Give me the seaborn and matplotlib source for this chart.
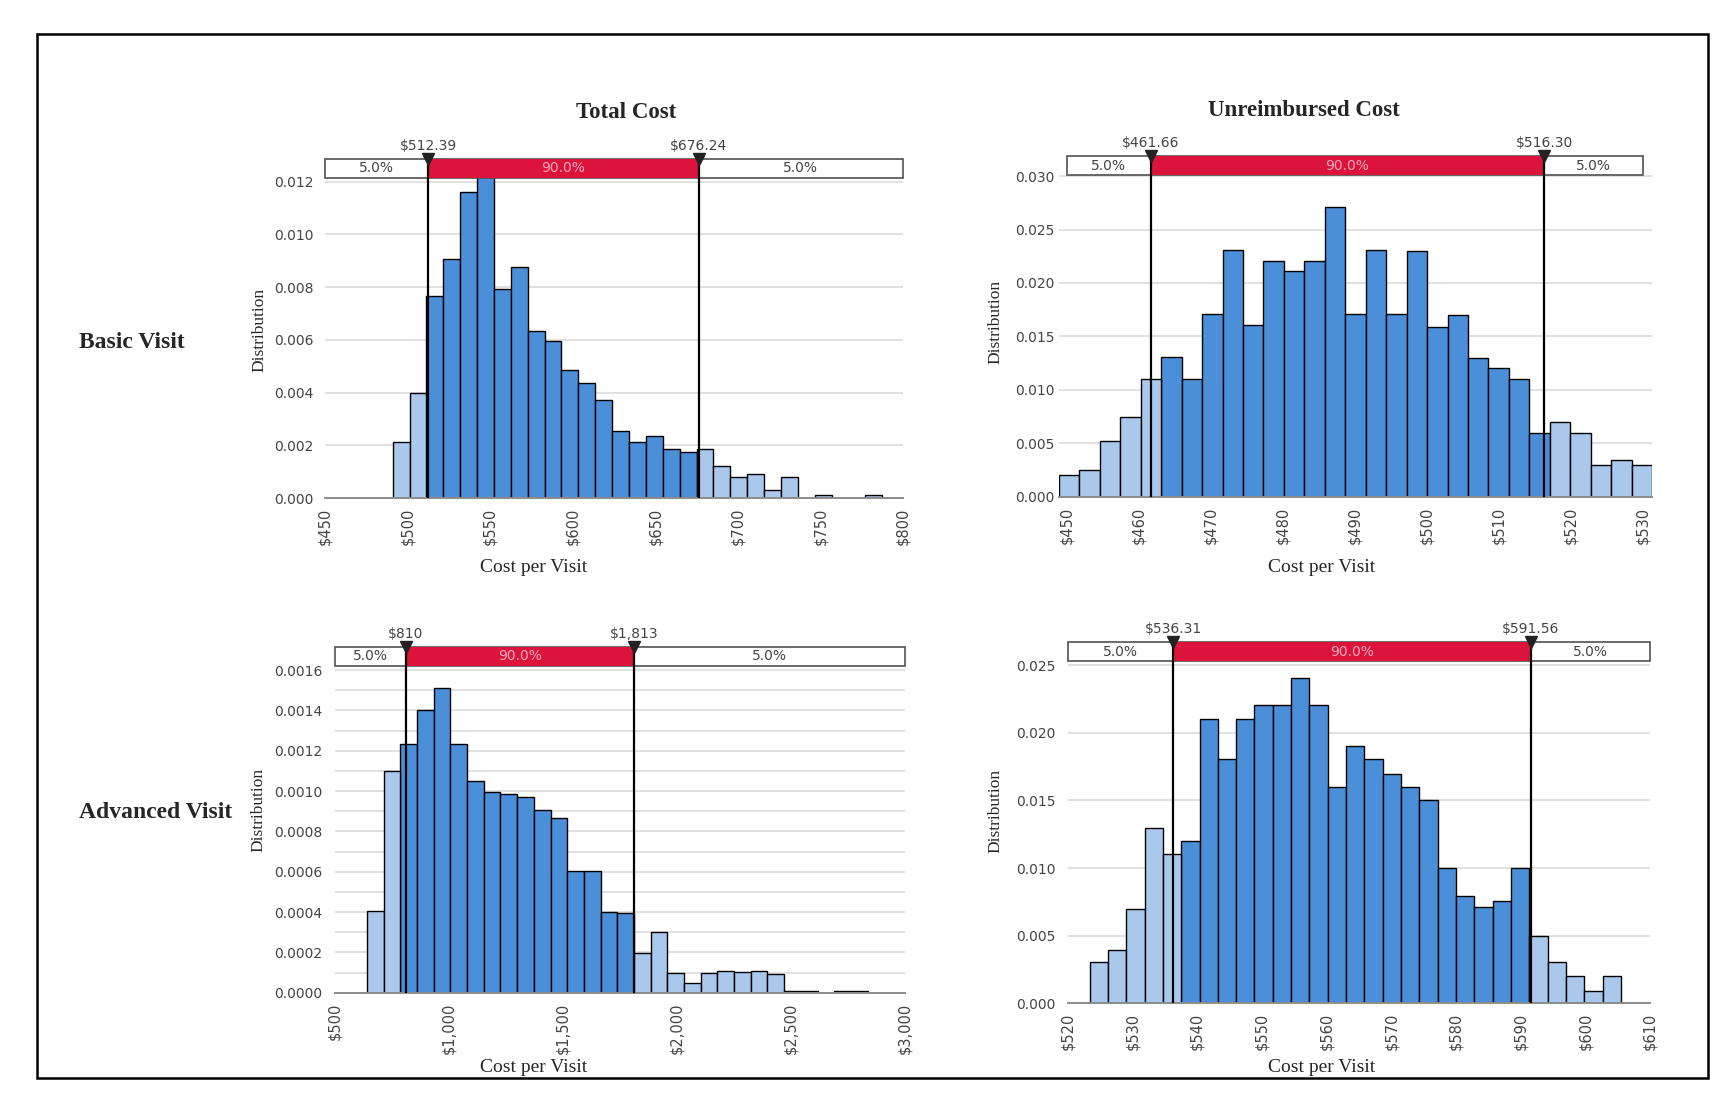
import numpy as np
import pandas as pd
import matplotlib
matplotlib.use("Agg")
import matplotlib.pyplot as plt
import seaborn as sns
from matplotlib.patches import Rectangle
from matplotlib.ticker import MultipleLocator, FixedLocator

# ---------------- data ----------------
row_labels = ["Basic Visit", "Advanced Visit"]
col_titles = ["Total Cost", "Unreimbursed Cost"]

# Basic visit - total cost
bt_start, bt_width = 491.0, 10.22
bt_heights = [0.00213, 0.00397, 0.00765, 0.00908, 0.01162, 0.0122, 0.00794, 0.00877,
              0.00634, 0.00596, 0.00485, 0.00435, 0.00372, 0.00255, 0.00212, 0.00236,
              0.00185, 0.00173, 0.00185, 0.00122, 0.00081, 0.00092, 0.00030, 0.00078,
              0.0, 0.00012, 0.0, 0.0, 0.00012]
bt_bounds = [512.39, 676.24]
bt_bound_labels = ["$512.39", "$676.24"]
bt_xticks = [450, 500, 550, 600, 650, 700, 750, 800]
bt_yticks = [0.000, 0.002, 0.004, 0.006, 0.008, 0.010, 0.012]

# Basic visit - unreimbursed cost
bu_start, bu_width = 448.93, 2.84
bu_heights = [0.00204, 0.00251, 0.00518, 0.00748, 0.01103, 0.01304, 0.01103, 0.01706,
              0.02312, 0.01602, 0.02205, 0.02108, 0.02205, 0.02711, 0.01706, 0.02312,
              0.01706, 0.02303, 0.01590, 0.01703, 0.01300, 0.01200, 0.01100, 0.00594,
              0.00700, 0.00594, 0.00297, 0.00344, 0.00297]
bu_bounds = [461.66, 516.30]
bu_bound_labels = ["$461.66", "$516.30"]
bu_xticks = [450, 460, 470, 480, 490, 500, 510, 520, 530]
bu_yticks = [0.000, 0.005, 0.010, 0.015, 0.020, 0.025, 0.030]

# Advanced visit - total cost
at_start, at_width = 640.0, 73.2
at_heights = [0.000407, 0.001101, 0.001233, 0.001402, 0.001509, 0.001233, 0.001051,
              0.000997, 0.000985, 0.000972, 0.000906, 0.000864, 0.000603, 0.000603,
              0.000402, 0.000393, 0.000195, 0.000302, 0.000096, 0.000050, 0.000100,
              0.000110, 0.000105, 0.000110, 0.000092, 0.000010, 0.000010, 0.0,
              0.000010, 0.000010]
at_bounds = [810, 1813]
at_bound_labels = ["$810", "$1,813"]
at_xticks = [500, 1000, 1500, 2000, 2500, 3000]
at_yticks = [0.0000, 0.0002, 0.0004, 0.0006, 0.0008, 0.0010, 0.0012, 0.0014, 0.0016]

# Advanced visit - unreimbursed cost
au_start, au_width = 523.36, 2.832
au_heights = [0.00303, 0.00394, 0.00697, 0.01293, 0.01101, 0.01200, 0.02099, 0.01805,
              0.02099, 0.02202, 0.02202, 0.02401, 0.02202, 0.01596, 0.01901, 0.01805,
              0.01695, 0.01596, 0.01500, 0.01002, 0.00796, 0.00709, 0.00759, 0.01000,
              0.00494, 0.00304, 0.00205, 0.00094, 0.00205]
au_bounds = [536.31, 591.56]
au_bound_labels = ["$536.31", "$591.56"]
au_xticks = [520, 530, 540, 550, 560, 570, 580, 590, 600, 610]
au_yticks = [0.000, 0.005, 0.010, 0.015, 0.020, 0.025]

pct_labels = ["5.0%", "90.0%", "5.0%"]

# ---------------- style ----------------
sns.set_style("white")
plt.rcParams["font.family"] = ["DejaVu Sans"]
SERIF = ["Liberation Serif", "DejaVu Serif"]
DARK = "#4A8FD8"
LIGHT = "#AAC8EC"
RED = "#DC143C"
TXT = "#444444"

W, H = 1729, 1096
fig = plt.figure(figsize=(W / 100, H / 100), dpi=100)


def px_rect(l, b_px, r, t_px):
    return [l / W, 1 - b_px / H, (r - l) / W, (b_px - t_px) / H]


def draw_panel(rect, start, width, heights, bounds, bound_labels, xlim, box_range,
               xticks, yticks, ymax, yfmt, ypad, minor=None):
    ax = fig.add_axes(rect)
    n = len(heights)
    edges = start + width * np.arange(n + 1)
    left, right = edges[:-1], edges[1:]
    lo, hi = bounds
    inside = (left >= lo - 0.45 * width) & (right <= hi + 0.45 * width)
    df = pd.DataFrame({"cost": (left + right) / 2,
                       "density": heights,
                       "zone": np.where(inside, "mid", "tail")})
    sns.histplot(data=df, x="cost", weights="density", hue="zone",
                 hue_order=["tail", "mid"], palette={"tail": LIGHT, "mid": DARK},
                 binwidth=width, binrange=(start, start + n * width),
                 multiple="layer", stat="count", alpha=1,
                 edgecolor="black", linewidth=1.0, legend=False, ax=ax)
    for p in list(ax.patches):
        if p.get_height() <= 0:
            p.remove()
    ax.set_xlim(*xlim)
    ax.set_ylim(0, ymax)
    ax.set_xlabel("")
    ax.set_ylabel("")
    for s in ["top", "right", "left"]:
        ax.spines[s].set_visible(False)
    ax.spines["bottom"].set_color("#8C8C8C")
    ax.spines["bottom"].set_linewidth(1.4)
    ax.xaxis.set_major_locator(FixedLocator(xticks))
    ax.set_xticklabels([f"${v:,.0f}" for v in xticks], rotation=90,
                       fontsize=10.5, color=TXT)
    ax.yaxis.set_major_locator(FixedLocator(yticks))
    ax.set_yticklabels([yfmt.format(v) for v in yticks], fontsize=10, color=TXT)
    ax.tick_params(axis="x", direction="out", length=4, width=1.2,
                   color="#666666", pad=3)
    ax.tick_params(axis="y", length=0, pad=ypad)
    ax.set_axisbelow(True)
    ax.grid(axis="y", which="major", color="#DCDCDC", linewidth=1.2)
    ax.grid(axis="x", visible=False)
    if minor is not None:
        ax.yaxis.set_minor_locator(MultipleLocator(minor))
        ax.grid(axis="y", which="minor", color="#DCDCDC", linewidth=1.2)
        ax.tick_params(axis="y", which="minor", length=0)

    # percentile lines
    for b in bounds:
        ax.axvline(b, ymin=0, ymax=1, color="black", linewidth=1.6, zorder=5)

    # 5% / 90% / 5% band on top
    ax_h_px = rect[3] * H
    bh = 19 / ax_h_px
    tr = ax.get_xaxis_transform()
    x0, x1 = box_range
    ax.add_patch(Rectangle((x0, 1), x1 - x0, bh, transform=tr, clip_on=False,
                           facecolor="white", edgecolor="#505050", linewidth=1.2,
                           zorder=6))
    ax.add_patch(Rectangle((lo, 1), hi - lo, bh, transform=tr, clip_on=False,
                           facecolor=RED, edgecolor="none", zorder=7))
    ax.text((x0 + lo) / 2, 1 + bh / 2, pct_labels[0], transform=tr, ha="center",
            va="center", fontsize=10, color=TXT, zorder=8)
    ax.text((lo + hi) / 2, 1 + bh / 2, pct_labels[1], transform=tr, ha="center",
            va="center", fontsize=10, color="#F6A9BC", zorder=8)
    ax.text((hi + x1) / 2, 1 + bh / 2, pct_labels[2], transform=tr, ha="center",
            va="center", fontsize=10, color=TXT, zorder=8)
    for b, lab in zip(bounds, bound_labels):
        ax.plot([b], [1 + bh], marker="v", markersize=8, color="#222222",
                transform=tr, clip_on=False, zorder=9)
        ax.plot([b, b], [1, 1 + bh], color="black", linewidth=1.6,
                transform=tr, clip_on=False, zorder=8)
        ax.text(b, 1 + bh + 13 / ax_h_px, lab, transform=tr, ha="center",
                va="center", fontsize=10, color=TXT)
    return ax


draw_panel(px_rect(325, 498, 903, 178), bt_start, bt_width, bt_heights, bt_bounds,
           bt_bound_labels, (450, 800), (450, 800), bt_xticks, bt_yticks,
           0.01214, "{:.3f}", 8.5)
draw_panel(px_rect(1059, 496.7, 1652, 175), bu_start, bu_width, bu_heights, bu_bounds,
           bu_bound_labels, (448.93, 531.29), (450, 530), bu_xticks, bu_yticks,
           0.0301, "{:.3f}", 3.5)
draw_panel(px_rect(335, 992.7, 905, 666), at_start, at_width, at_heights, at_bounds,
           at_bound_labels, (500, 3000), (500, 3000), at_xticks, at_yticks,
           0.00162, "{:.4f}", 9, minor=0.0001)
draw_panel(px_rect(1067.8, 1003.3, 1650.2, 661), au_start, au_width, au_heights,
           au_bounds, au_bound_labels, (520, 610), (520, 610), au_xticks, au_yticks,
           0.0253, "{:.3f}", 8.5)

# column titles
fig.text(626 / W, 1 - 112 / H, col_titles[0], ha="center", va="center",
         fontsize=16.5, fontweight="bold", family=SERIF)
fig.text(1304 / W, 1 - 110 / H, col_titles[1], ha="center", va="center",
         fontsize=16.5, fontweight="bold", family=SERIF)
# row labels
fig.text(79 / W, 1 - 342 / H, row_labels[0], ha="left", va="center",
         fontsize=17, fontweight="bold", family=SERIF)
fig.text(79 / W, 1 - 812 / H, row_labels[1], ha="left", va="center",
         fontsize=17, fontweight="bold", family=SERIF)
# axis labels
for (x, y) in [(259, 330), (995, 322), (258, 810), (995, 811)]:
    fig.text(x / W, 1 - y / H, "Distribution", rotation=90, ha="center",
             va="center", fontsize=12.5, family=SERIF)
for (x, y) in [(534, 567), (1322, 567), (534, 1067), (1322, 1067)]:
    fig.text(x / W, 1 - y / H, "Cost per Visit", ha="center", va="center",
             fontsize=14, family=SERIF)

# outer frame
fig.add_artist(Rectangle((37 / W, 1 - 1078 / H), (1708 - 37) / W, (1078 - 34) / H,
                         transform=fig.transFigure, fill=False,
                         edgecolor="black", linewidth=1.8))

fig.savefig("out.png", dpi=100, facecolor="white")
